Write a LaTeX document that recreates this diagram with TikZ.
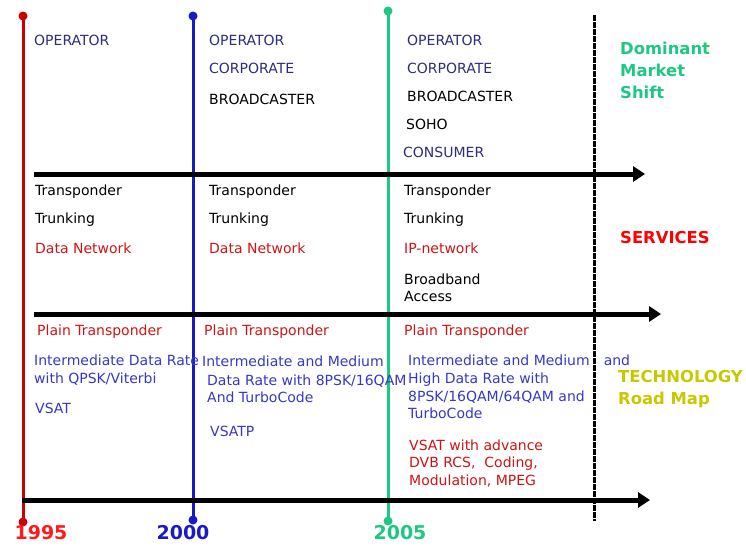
\documentclass[tikz,border=0pt]{standalone}
\usepackage{fontspec}
\setmainfont{DejaVu Sans}
\usetikzlibrary{arrows.meta}
\definecolor{cred}{RGB}{205,0,0}
\definecolor{cblue}{RGB}{25,25,200}
\definecolor{cgreen}{RGB}{30,200,130}
\definecolor{cnavy}{RGB}{45,45,125}
\definecolor{ctblue}{RGB}{55,55,200}
\definecolor{ctred}{RGB}{205,20,20}
\definecolor{cyel}{RGB}{200,200,0}
\begin{document}
\begin{tikzpicture}[x=1pt,y=-1pt,
  txt/.style={anchor=west,inner sep=0pt,font=\fontsize{14}{17.5}\selectfont,align=left},
  big/.style={anchor=west,inner sep=0pt,font=\fontsize{16.4}{22}\selectfont\bfseries,align=left},
  yr/.style={inner sep=0pt,font=\fontsize{19}{22}\selectfont\bfseries},
  dot/.style={circle,inner sep=0pt,minimum size=9pt},
  vline/.style={line width=3pt},
  harrow/.style={line width=5pt,-{Triangle[length=12pt,width=15pt]}}]
\path[use as bounding box] (0,0) rectangle (746,546);
% vertical timelines
\node[dot,fill=cred] (rt) at (23,16) {};
\node[dot,fill=cred] (rb) at (23,522) {};
\node[dot,fill=cblue] (bt) at (193,16) {};
\node[dot,fill=cblue] (bb) at (193,520) {};
\node[dot,fill=cgreen] (gt) at (388,11) {};
\node[dot,fill=cgreen] (gb) at (388,521) {};
\draw[vline,cred] (rt.center) -- (rb.center);
\draw[vline,cblue] (bt.center) -- (bb.center);
\draw[vline,cgreen] (gt.center) -- (gb.center);
\coordinate (kt) at (594,15);
\coordinate (kb) at (594,521);
\draw[line width=3pt,dash pattern=on 6pt off 1pt] (kt) -- (kb);
% horizontal arrows
\coordinate (a1s) at (34,174); \coordinate (a1e) at (645,174);
\coordinate (a2s) at (34,314); \coordinate (a2e) at (661,314);
\coordinate (a3s) at (22,500); \coordinate (a3e) at (650,500);
\draw[harrow] (a1s) -- (a1e);
\draw[harrow] (a2s) -- (a2e);
\draw[harrow] (a3s) -- (a3e);
% column 1995
\node[txt,text=cnavy] (m1a) at (34,40) {OPERATOR};
\node[txt] (s1a) at (35,192) {Transponder};
\node[txt] (s1b) at (35,220) {Trunking};
\node[txt,text=ctred] (s1c) at (35,248) {Data Network};
\node[txt,text=ctred] (t1a) at (37,332) {Plain Transponder};
\node[txt,text=ctblue] (t1b) at (34,370) {Intermediate Data Rate\\with QPSK/Viterbi};
\node[txt,text=ctblue] (t1c) at (35,408) {VSAT};
% column 2000
\node[txt,text=cnavy] (m2a) at (209,40) {OPERATOR};
\node[txt,text=cnavy] (m2b) at (209,68) {CORPORATE};
\node[txt] (m2c) at (209,99) {BROADCASTER};
\node[txt] (s2a) at (209,192) {Transponder};
\node[txt] (s2b) at (209,220) {Trunking};
\node[txt,text=ctred] (s2c) at (209,248) {Data Network};
\node[txt,text=ctred] (t2a) at (204,332) {Plain Transponder};
\node[txt,text=ctblue] (t2b) at (202,361) {Intermediate and Medium};
\node[txt,text=ctblue] (t2c) at (207,389) {Data Rate with 8PSK/16QAM\\And TurboCode};
\node[txt,text=ctblue] (t2d) at (210,431) {VSATP};
% column 2005
\node[txt,text=cnavy] (m3a) at (407,40) {OPERATOR};
\node[txt,text=cnavy] (m3b) at (407,68) {CORPORATE};
\node[txt] (m3c) at (407,96) {BROADCASTER};
\node[txt] (m3d) at (406,124) {SOHO};
\node[txt,text=cnavy] (m3e) at (403,152) {CONSUMER};
\node[txt] (s3a) at (404,192) {Transponder};
\node[txt] (s3b) at (404,220) {Trunking};
\node[txt,text=ctred] (s3c) at (404,248) {IP-network};
\node[txt] (s3d) at (404,288) {Broadband\\Access};
\node[txt,text=ctred] (t3a) at (404,332) {Plain Transponder};
\node[txt,text=ctblue] (t3b) at (408,360) {Intermediate and Medium\quad and};
\node[txt,text=ctblue] (t3c) at (408,396) {High Data Rate with\\8PSK/16QAM/64QAM and\\TurboCode};
\node[txt,text=ctred] (t3d) at (409,463) {VSAT with advance\\DVB RCS,\ \ Coding,\\Modulation, MPEG};
% years
\node[yr,text=red!90!white] (y1) at (41,533) {1995};
\node[yr,text=cblue] (y2) at (183,533) {2000};
\node[yr,text=cgreen] (y3) at (400,533) {2005};
% right labels
\node[big,text=cgreen] (l1) at (620,70) {Dominant\\Market\\Shift};
\node[big,text=red] (l2) at (620,238) {SERVICES};
\node[big,text=cyel] (l3) at (618,389) {TECHNOLOGY\\Road Map};
\end{tikzpicture}
\end{document}
